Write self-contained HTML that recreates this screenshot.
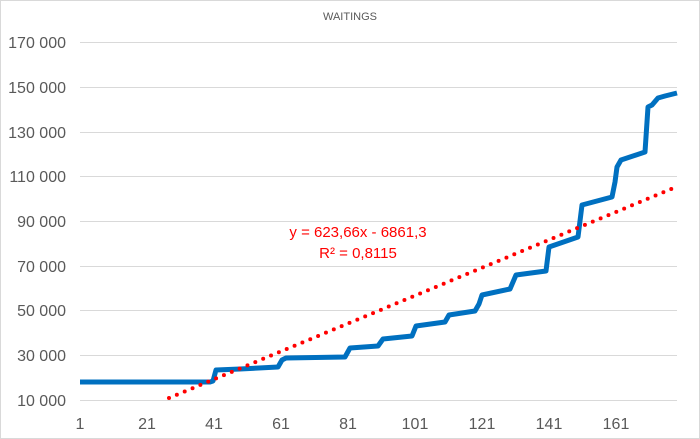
<!DOCTYPE html>
<html><head><meta charset="utf-8"><style>
html,body{margin:0;padding:0;background:#fff}
svg{display:block}
text{font-family:"Liberation Sans",sans-serif}
</style></head><body>
<svg width="700" height="439" viewBox="0 0 700 439" xmlns="http://www.w3.org/2000/svg">
<rect x="0.5" y="0.5" width="699" height="438" fill="#fff" stroke="#d9d9d9"/>
<text x="350" y="20" font-size="11" fill="#595959" text-anchor="middle">WAITINGS</text>
<g stroke="#d9d9d9" stroke-width="1">
<line x1="80" x2="677" y1="42.5" y2="42.5"/>
<line x1="80" x2="677" y1="87.5" y2="87.5"/>
<line x1="80" x2="677" y1="132.5" y2="132.5"/>
<line x1="80" x2="677" y1="176.5" y2="176.5"/>
<line x1="80" x2="677" y1="221.5" y2="221.5"/>
<line x1="80" x2="677" y1="266.5" y2="266.5"/>
<line x1="80" x2="677" y1="310.5" y2="310.5"/>
<line x1="80" x2="677" y1="355.5" y2="355.5"/>
<line x1="80" x2="677" y1="400.5" y2="400.5"/>
</g>
<g font-size="16" fill="#595959" text-anchor="end">
<text x="66" y="48">170 000</text>
<text x="66" y="93">150 000</text>
<text x="66" y="138">130 000</text>
<text x="66" y="182">110 000</text>
<text x="66" y="227">90 000</text>
<text x="66" y="272">70 000</text>
<text x="66" y="316">50 000</text>
<text x="66" y="361">30 000</text>
<text x="66" y="406">10 000</text>
</g>
<g font-size="16" fill="#595959" text-anchor="middle">
<text x="80" y="429">1</text>
<text x="147" y="429">21</text>
<text x="214" y="429">41</text>
<text x="281" y="429">61</text>
<text x="348" y="429">81</text>
<text x="415" y="429">101</text>
<text x="482" y="429">121</text>
<text x="549" y="429">141</text>
<text x="616" y="429">161</text>
</g>
<polyline fill="none" stroke="#0070c0" stroke-width="5" stroke-linejoin="round" points="80,382 210,382 213,381 216,370 240,369 278,367 282,360 286,358 345,357 350,348 378,346 383,339 412,336 416,326 445,322 449,315 475,311 479,304 482,295 510,289 516,275 546,271 549,247 578,237 582,205 612,197 615,182 617,167 621,160 645,152 648,107 652,105 658,98 665,96 677,93"/>
<line x1="169" y1="398" x2="676" y2="187" stroke="#ff0000" stroke-width="4" stroke-linecap="round" stroke-dasharray="0 8.5"/>
<g font-size="15" fill="#ff0000" text-anchor="middle">
<text x="358" y="237">y = 623,66x - 6861,3</text>
<text x="358" y="258">R² = 0,8115</text>
</g>
</svg>
</body></html>
